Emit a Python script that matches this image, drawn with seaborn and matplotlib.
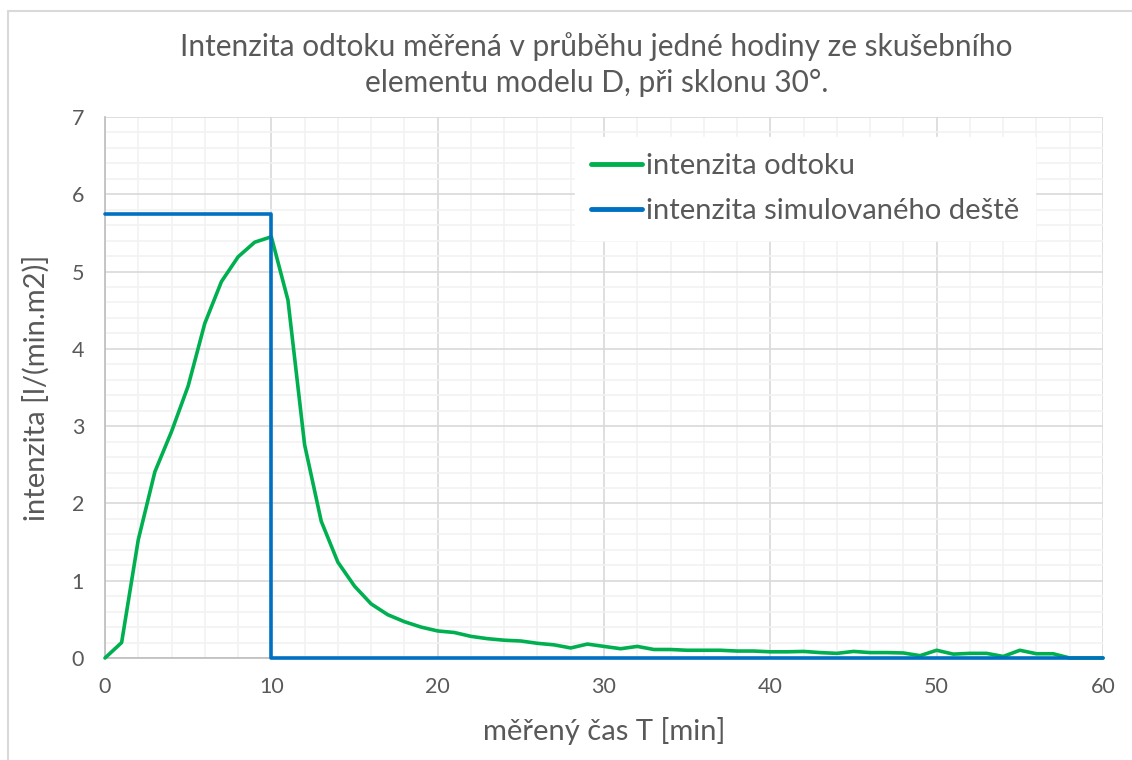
import seaborn as sns
import matplotlib.pyplot as plt
import pandas as pd
from matplotlib.ticker import MultipleLocator
from matplotlib.lines import Line2D


# Data

cas = list(range(61))
odtok = [0, 0.20, 1.53, 2.41, 2.93, 3.52, 4.33, 4.87, 5.19, 5.38,
         5.45, 4.63, 2.76, 1.77, 1.24, 0.93, 0.70, 0.56, 0.47, 0.40,
         0.35, 0.33, 0.28, 0.25, 0.23, 0.22, 0.19, 0.17, 0.13, 0.18,
         0.15, 0.12, 0.15, 0.11, 0.11, 0.10, 0.10, 0.10, 0.09, 0.09,
         0.08, 0.08, 0.085, 0.07, 0.06, 0.085, 0.07, 0.07, 0.065, 0.03,
         0.10, 0.05, 0.06, 0.06, 0.02, 0.10, 0.055, 0.055, 0, 0,
         0]
dest_cas = [0, 10, 10, 60]
dest_int = [5.75, 5.75, 0, 0]

serie_odtok = "intenzita odtoku"
serie_dest = "intenzita simulovaného deště"


# Styl

sns.set_theme(style="white")
plt.rcParams["font.family"] = ["Lato", "DejaVu Sans"]
seda = "#595959"

df = pd.concat([
    pd.DataFrame({"cas": cas, "intenzita": odtok, "serie": serie_odtok}),
    pd.DataFrame({"cas": dest_cas, "intenzita": dest_int, "serie": serie_dest}),
], ignore_index=True)

fig, ax = plt.subplots(figsize=(11.32, 7.6), dpi=100)
fig.subplots_adjust(left=105 / 1132, right=1103 / 1132,
                    top=1 - 117 / 760, bottom=1 - 658 / 760)

sns.lineplot(data=df, x="cas", y="intenzita", hue="serie", ax=ax,
             palette={serie_odtok: "#00B050", serie_dest: "#0070C0"},
             estimator=None, sort=False, linewidth=2.6, clip_on=False,
             zorder=5)

ax.set_xlim(0, 60)
ax.set_ylim(0, 7)
ax.xaxis.set_major_locator(MultipleLocator(10))
ax.xaxis.set_minor_locator(MultipleLocator(2))
ax.yaxis.set_major_locator(MultipleLocator(1))
ax.yaxis.set_minor_locator(MultipleLocator(0.2))
ax.grid(which="major", color="#D9D9D9", linewidth=1.2)
ax.grid(which="minor", color="#F2F2F2", linewidth=1.2)
ax.set_axisbelow(True)
for s in ["top", "right"]:
    ax.spines[s].set_visible(False)
ax.spines["left"].set_color("#BFBFBF")
ax.spines["bottom"].set_color("#BFBFBF")
ax.tick_params(which="both", length=0, labelsize=15.5, labelcolor=seda)
ax.tick_params(axis="x", pad=14)
ax.tick_params(axis="y", pad=15)

ax.set_xlabel("měřený čas T [min]", fontsize=21, color=seda, labelpad=14)
ax.set_ylabel("intenzita [l/(min.m2)]", fontsize=21, color=seda, labelpad=16)

fig.suptitle("Intenzita odtoku měřená v průběhu jedné hodiny ze skušebního\n"
             "elementu modelu D, při sklonu 30°.",
             x=0.527, y=1 - 32 / 760, va="top", fontsize=21.5, color=seda,
             linespacing=1.35)

leg = ax.legend(loc="upper left", bbox_to_anchor=(0.471, 0.963), fontsize=21,
                frameon=True, fancybox=False, edgecolor="white",
                facecolor="white", framealpha=1, handlelength=1.75,
                handletextpad=0.12, borderpad=0.55, labelspacing=0.65,
                borderaxespad=0)
for t in leg.get_texts():
    t.set_color(seda)
for h in leg.get_lines():
    h.set_linewidth(3.5)

# ramecek grafu
fig.add_artist(Line2D([8 / 1132, 8 / 1132], [0, 1 - 11 / 760],
                      color="#D9D9D9", linewidth=1.5, transform=fig.transFigure))
fig.add_artist(Line2D([8 / 1132, 1], [1 - 11 / 760, 1 - 11 / 760],
                      color="#D9D9D9", linewidth=1.5, transform=fig.transFigure))

fig.savefig("out.png", dpi=100)
